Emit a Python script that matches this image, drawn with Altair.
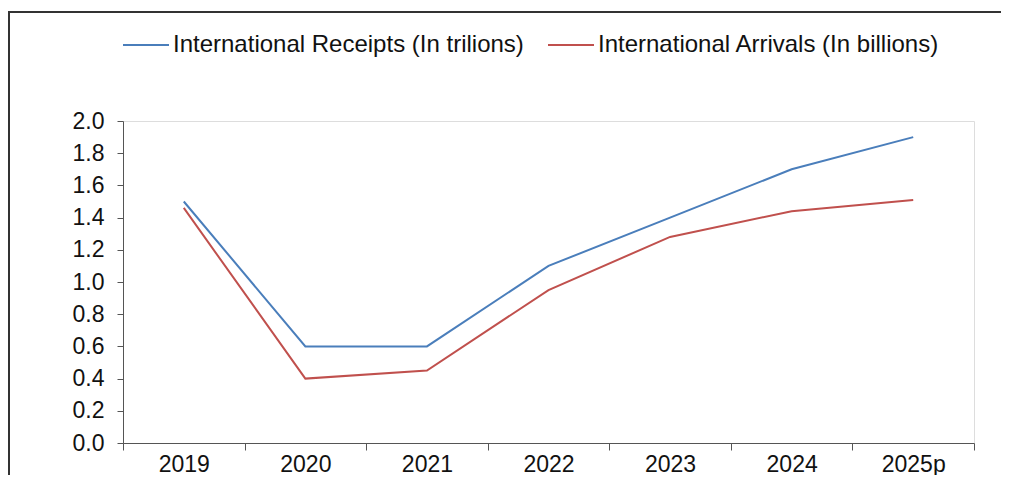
import altair as alt
import pandas as pd

years = ["2019", "2020", "2021", "2022", "2023", "2024", "2025p"]
receipts = [1.50, 0.60, 0.60, 1.10, 1.40, 1.70, 1.90]
arrivals = [1.46, 0.40, 0.45, 0.95, 1.28, 1.44, 1.51]
series_names = ["International Receipts (In trilions)", "International Arrivals (In billions)"]
series_colors = ["#4A7EBB", "#C0504D"]

rows = []
for y, r, a in zip(years, receipts, arrivals):
    rows.append({"year": y, "value": r, "series": series_names[0]})
    rows.append({"year": y, "value": a, "series": series_names[1]})
df = pd.DataFrame(rows)

FONT = "Liberation Sans"

lines = alt.Chart(df).mark_line(strokeWidth=2).encode(
    x=alt.X("year:N", sort=years, title=None,
            scale=alt.Scale(type="band", paddingInner=0, paddingOuter=0),
            axis=alt.Axis(labelAngle=0, tickBand="extent", tickSize=7, labelPadding=3,
                          domainColor="#555555", tickColor="#555555", labelColor="#111111",
                          labelFontSize=23, labelFont=FONT, grid=False)),
    y=alt.Y("value:Q", title=None,
            scale=alt.Scale(domain=[0, 2.0], nice=False),
            axis=alt.Axis(values=[0, 0.2, 0.4, 0.6, 0.8, 1.0, 1.2, 1.4, 1.6, 1.8, 2.0],
                          format=".1f", tickSize=6, labelPadding=13,
                          domainColor="#555555", tickColor="#555555", labelColor="#111111",
                          labelFontSize=23, labelFont=FONT, grid=False)),
    color=alt.Color("series:N", title=None,
                    scale=alt.Scale(domain=series_names, range=series_colors),
                    legend=alt.Legend(orient="none", legendX=-1, legendY=-100,
                                      direction="horizontal", symbolType="stroke",
                                      symbolSize=2116, symbolStrokeWidth=2,
                                      labelFontSize=24, labelFont=FONT, labelColor="#111111",
                                      labelOffset=3, columnPadding=20, labelLimit=600)),
)

frame = alt.Chart(pd.DataFrame({"f": [0]})).mark_rect(
    fill="transparent", stroke="#333333", strokeWidth=2
).encode(
    x=alt.value(-114), x2=alt.value(960), y=alt.value(-109), y2=alt.value(400)
)

chart = alt.layer(frame, lines).properties(
    width=851, height=322,
    padding={"left": 115, "top": 113, "right": 27, "bottom": 32},
    autosize=alt.AutoSizeParams(type="none"),
).configure_view(stroke=None).configure(background="white")

chart.save("out.html", embed_options={"renderer": "svg", "actions": False})
